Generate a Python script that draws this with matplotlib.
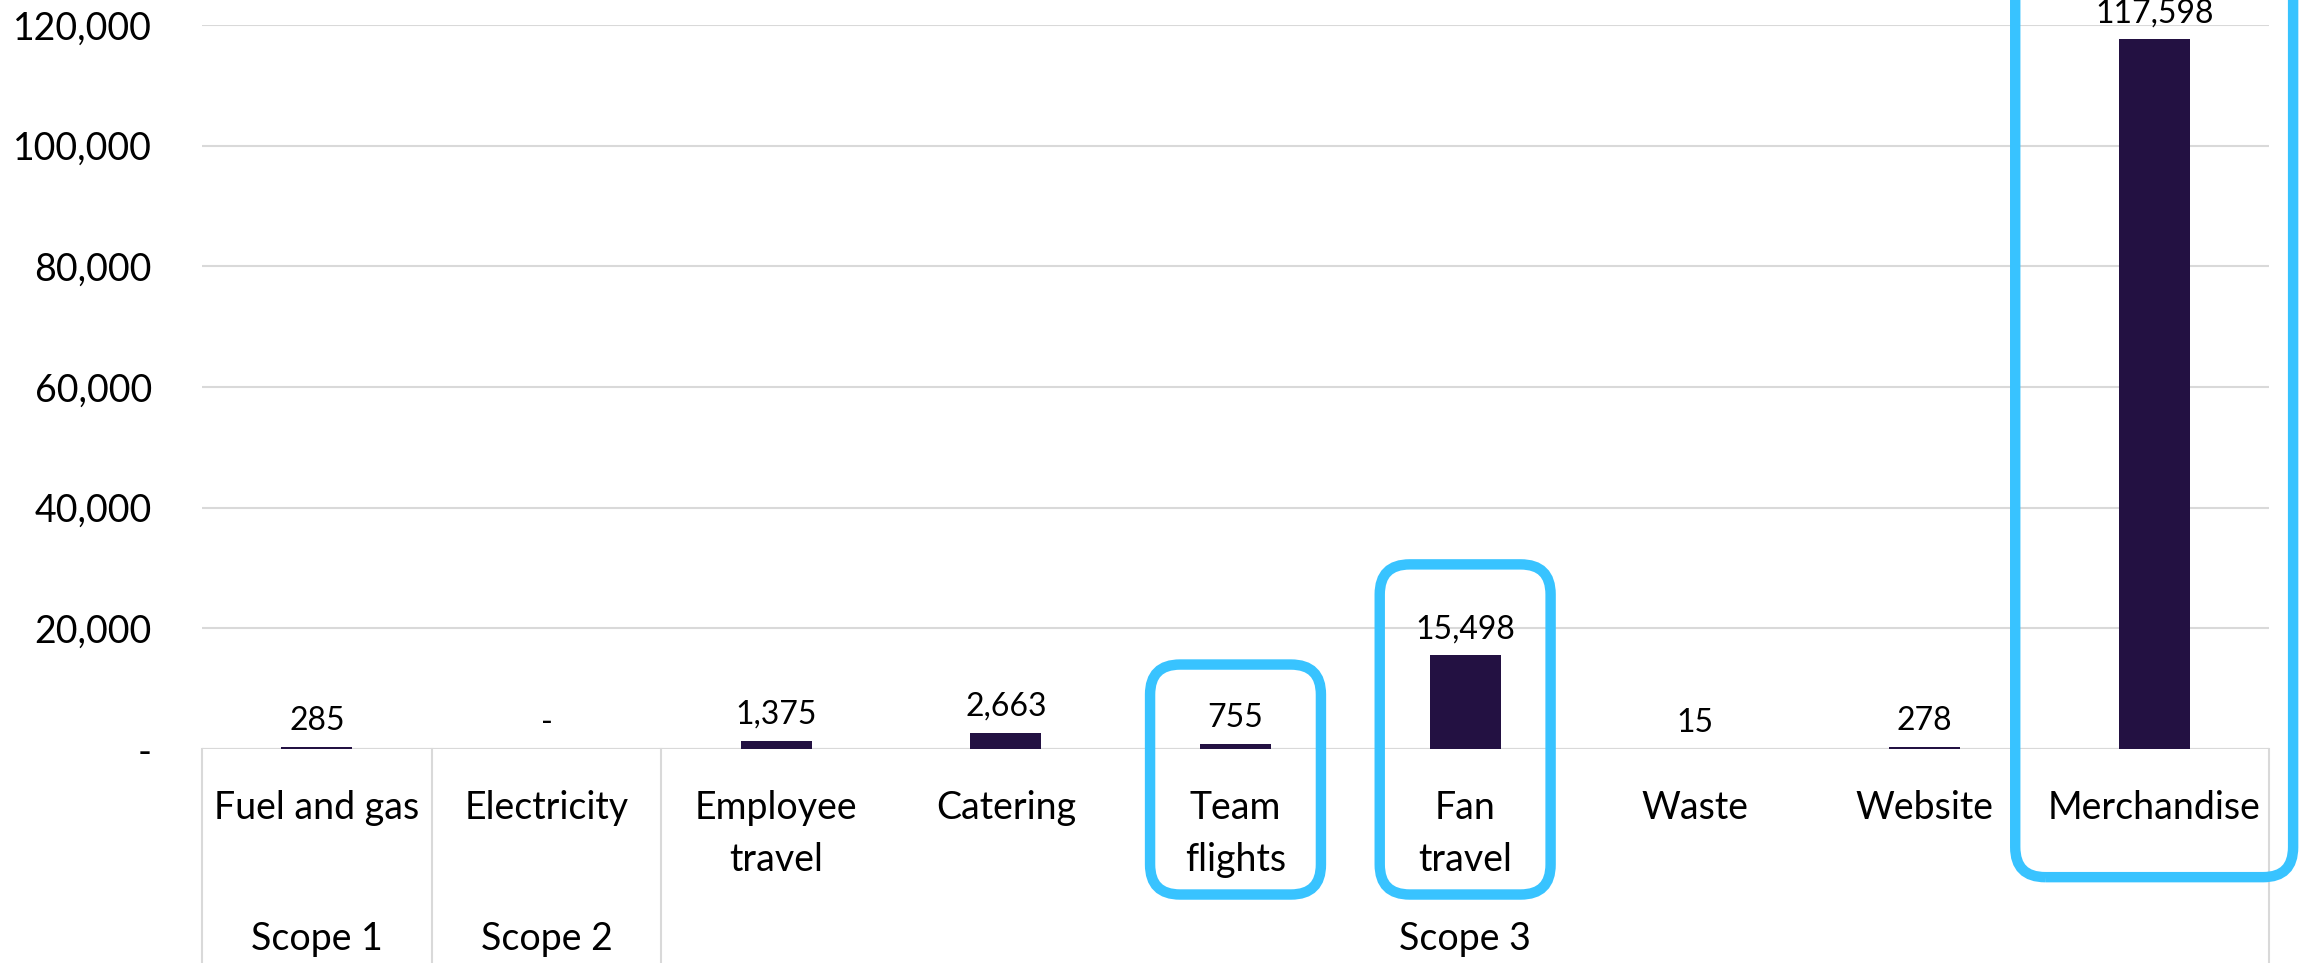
import matplotlib.pyplot as plt
from matplotlib.patches import FancyBboxPatch
from matplotlib.ticker import FuncFormatter
from matplotlib.transforms import blended_transform_factory, IdentityTransform

categories = ["Fuel and gas", "Electricity", "Employee\ntravel", "Catering", "Team\nflights",
              "Fan\ntravel", "Waste", "Website", "Merchandise"]
emissions = [285, 0, 1375, 2663, 755, 15498, 15, 278, 117598]
scopes = ["Scope 1", "Scope 2", "Scope 3"]
scope_spans = [(0, 0), (1, 1), (2, 8)]
y_ticks = [0, 20000, 40000, 60000, 80000, 100000, 120000]

# highlighted categories: (index, half width in categories, top in data units, bottom in axes fraction)
highlights = [(4, 0.372, 14000, -0.201), (5, 0.372, 30600, -0.201), (8, 0.605, 130000, -0.177)]

bar_color = "#231142"
grid_color = "#D9D9D9"
box_color = "#38C3FF"

plt.rcParams['font.family'] = ['Lato', 'DejaVu Sans']
plt.rcParams['font.size'] = 27

fig = plt.figure(figsize=(23.13, 9.63), dpi=100)
ax = fig.add_axes([202 / 2313, 1 - 749 / 963, (2269 - 202) / 2313, (749 - 25) / 963])

x = list(range(len(categories)))
ax.bar(x, emissions, width=0.31, color=bar_color, zorder=3)
ax.set_xlim(-0.5, len(categories) - 0.5)
ax.set_ylim(0, 120000)

ax.set_yticks(y_ticks)
ax.yaxis.set_major_formatter(FuncFormatter(lambda v, p: "-" if v == 0 else f"{v:,.0f}"))
ax.tick_params(axis='y', length=0, pad=36, labelsize=27)
ax.set_xticks([])
ax.grid(axis='y', color=grid_color, lw=1.5, zorder=0)
for s in ax.spines.values():
    s.set_visible(False)
ax.axhline(0, color=grid_color, lw=1.5, zorder=2)

for xi, v in zip(x, emissions):
    label = "-" if v == 0 else f"{v:,}"
    ax.annotate(label, (xi, v), xytext=(0, 8), textcoords='offset points',
                ha='center', va='bottom', fontsize=23, zorder=4, annotation_clip=False)

trans = blended_transform_factory(ax.transData, ax.transAxes)
for b in [-0.5, 0.5, 1.5, len(categories) - 0.5]:
    ax.plot([b, b], [0, -0.4], color=grid_color, lw=1.5, transform=trans, clip_on=False)

for xi, c in zip(x, categories):
    ax.text(xi, -0.057, c, ha='center', va='top', transform=trans, linespacing=1.55)

for name, (a, b) in zip(scopes, scope_spans):
    ax.text((a + b) / 2, -0.262, name, ha='center', va='center', transform=trans)

fig.canvas.draw()
for idx, hw, top, bottom in highlights:
    x0, y_top = ax.transData.transform((idx - hw, top))
    x1, _ = ax.transData.transform((idx + hw, top))
    _, y_bot = trans.transform((idx, bottom))
    box = FancyBboxPatch((x0, y_bot), x1 - x0, y_top - y_bot,
                         boxstyle="round,pad=0,rounding_size=30",
                         fill=False, edgecolor=box_color, lw=7.5,
                         transform=IdentityTransform(), zorder=5, clip_on=False)
    fig.patches.append(box)

fig.savefig("out.png", dpi=100)
